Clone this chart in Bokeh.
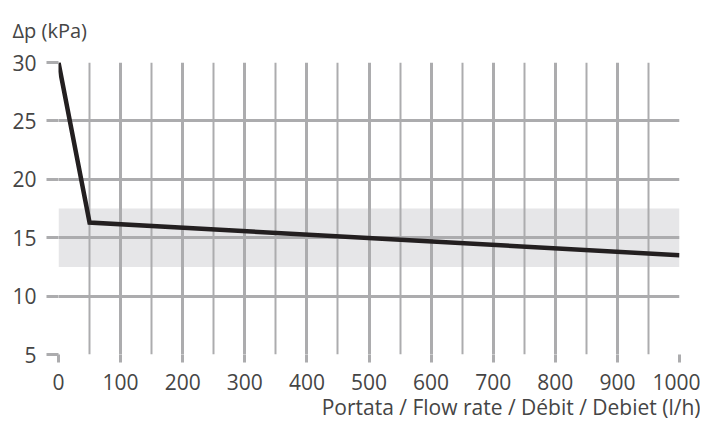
from bokeh.plotting import figure
from bokeh.models import Range1d, FixedTicker, Title
from bokeh.embed import file_html
from bokeh.resources import INLINE

# data
flow = [0, 50, 1000]
dp = [30, 16.3, 13.5]
band_low = 12.5
band_high = 17.5
x_ticks = [0, 100, 200, 300, 400, 500, 600, 700, 800, 900, 1000]
x_minor = [50, 150, 250, 350, 450, 550, 650, 750, 850, 950]
y_ticks = [5, 10, 15, 20, 25, 30]
y_title = "Δp (kPa)"
x_title = "Portata / Flow rate / Débit / Debiet (l/h)"

GRID = "#acacae"
TEXT = "#454545"
FONT = "Open Sans"

p = figure(width=700, height=429, output_backend="svg", toolbar_location=None,
           x_range=Range1d(0, 1000), y_range=Range1d(5, 30),
           min_border_left=58, min_border_right=21, min_border_top=62, min_border_bottom=75)
p.outline_line_color = None
p.background_fill_color = "white"
p.border_fill_color = "white"

# band
band = p.quad(left=[0], right=[1000], bottom=[band_low], top=[band_high],
              fill_color="#e6e6e8", line_color=None)
band.level = "image"

# grids
p.xgrid.ticker = FixedTicker(ticks=x_ticks, minor_ticks=x_minor)
p.xgrid.grid_line_color = GRID
p.xgrid.grid_line_width = 3
p.xgrid.minor_grid_line_color = GRID
p.xgrid.minor_grid_line_width = 2
p.ygrid.ticker = FixedTicker(ticks=y_ticks)
p.ygrid.grid_line_color = GRID
p.ygrid.grid_line_width = 3

# axes
for ax in (p.xaxis[0], p.yaxis[0]):
    ax.axis_line_color = None
    ax.major_tick_line_color = GRID
    ax.major_tick_line_width = 3
    ax.major_tick_in = 0
    ax.minor_tick_line_color = None
    ax.major_label_text_font = FONT
    ax.major_label_text_font_size = "21px"
    ax.major_label_text_color = TEXT
p.xaxis.ticker = FixedTicker(ticks=x_ticks)
p.yaxis.ticker = FixedTicker(ticks=y_ticks)
p.xaxis.major_tick_out = 8
p.xaxis.major_label_standoff = 11
p.yaxis.major_tick_out = 12
p.yaxis.major_label_standoff = 10

# curve
p.line(flow, dp, line_color="#231f20", line_width=4.5, line_join="miter")

# titles
p.add_layout(Title(text=y_title, align="left", offset=-46, standoff=33,
                   vertical_align="top",
                   text_font=FONT, text_font_size="20px", text_color=TEXT,
                   text_font_style="normal"), "above")
p.add_layout(Title(text=x_title, align="right", offset=-21, standoff=0,
                   vertical_align="top",
                   text_font=FONT, text_font_size="21px", text_color=TEXT,
                   text_font_style="normal"), "below")

open("out.html", "w").write(file_html(p, INLINE))
